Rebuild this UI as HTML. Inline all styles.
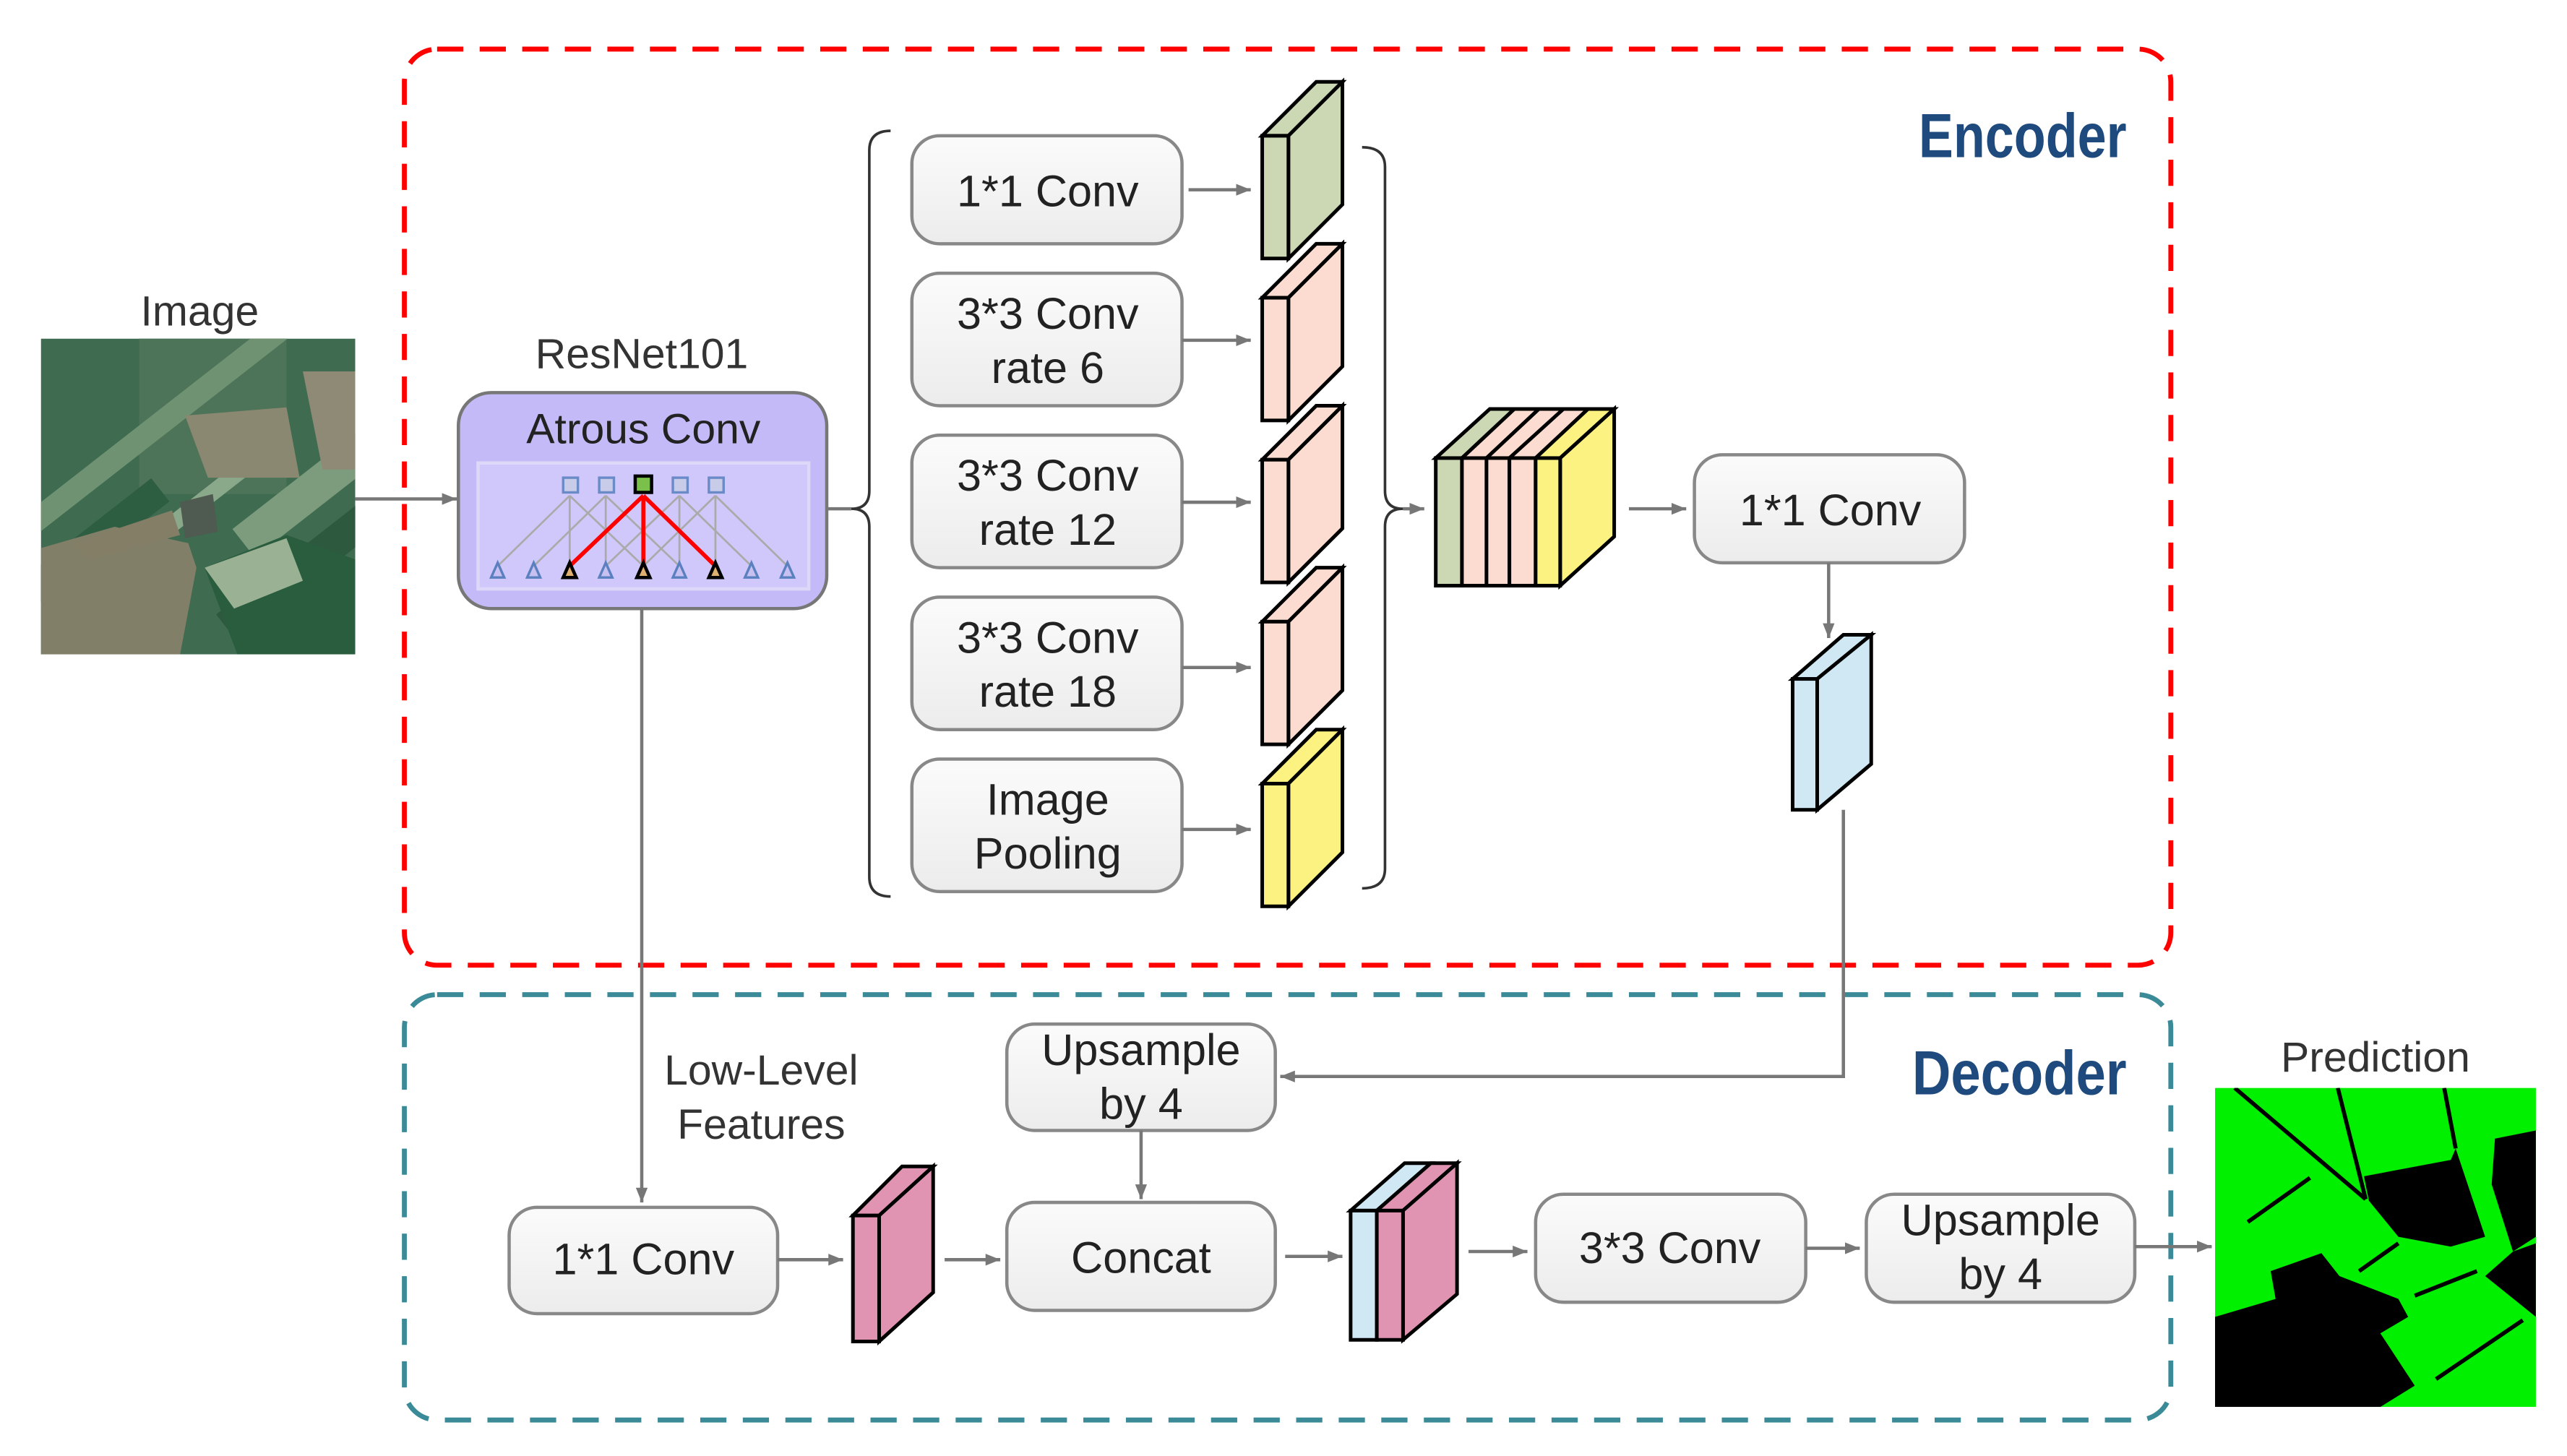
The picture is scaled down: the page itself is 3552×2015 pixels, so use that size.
<!DOCTYPE html>
<html><head><meta charset="utf-8"><style>
html,body{margin:0;padding:0;background:#fff;}
svg{display:block;}
text{font-family:"Liberation Sans",sans-serif;fill:#222;}
</style></head><body>
<svg width="3552" height="2015" viewBox="0 0 1568 890" preserveAspectRatio="none" xmlns="http://www.w3.org/2000/svg">
<defs>
<linearGradient id="bg" x1="0" y1="0" x2="0" y2="1"><stop offset="0" stop-color="#fbfbfb"/><stop offset="1" stop-color="#ececec"/></linearGradient>
<marker id="ar" viewBox="0 0 10 10" refX="10" refY="5" markerWidth="4.5" markerHeight="4.5" orient="auto"><path d="M0,1 L10,5 L0,9 z" fill="#777"/></marker>
<marker id="ar2" viewBox="0 0 10 10" refX="10" refY="5" markerWidth="4" markerHeight="4" orient="auto"><path d="M0,1 L10,5 L0,9 z" fill="#aaa"/></marker>
<marker id="ar3" viewBox="0 0 10 10" refX="10" refY="5" markerWidth="3" markerHeight="3" orient="auto"><path d="M0,1 L10,5 L0,9 z" fill="#f00"/></marker>
</defs>

<!-- Encoder / Decoder frames -->
<rect x="247" y="30" width="1079" height="560" rx="20" fill="none" stroke="#f00" stroke-width="3" stroke-dasharray="16,10"/>
<rect x="247" y="608" width="1079" height="260" rx="20" fill="none" stroke="#3a8a98" stroke-width="3" stroke-dasharray="16,10"/>
<text x="1172" y="96" font-weight="bold" font-size="38" textLength="127" lengthAdjust="spacingAndGlyphs" style="fill:#1f4a7e">Encoder</text>
<text x="1168" y="669" font-weight="bold" font-size="38" textLength="131" lengthAdjust="spacingAndGlyphs" style="fill:#1f4a7e">Decoder</text>

<!-- Input image -->
<text x="122" y="199" font-size="26" text-anchor="middle" style="fill:#333">Image</text>
<svg x="25" y="207" width="192" height="193" viewBox="0 0 192 193" preserveAspectRatio="none">
<rect width="192" height="193" fill="#3f6b50"/>
<rect x="60" y="0" width="90" height="95" fill="#4d7358"/>
<g transform="rotate(-38 96 96)">
<rect x="-20" y="40" width="240" height="14" fill="#6f9273"/>
<rect x="-20" y="70" width="100" height="18" fill="#2e5e42"/>
<rect x="10" y="95" width="120" height="10" fill="#8aa88a"/>
<rect x="100" y="125" width="140" height="22" fill="#7d9c7e"/>
<rect x="60" y="160" width="140" height="20" fill="#2d5a3f"/>
</g>
<polygon points="88,47 150,42 158,85 102,85" fill="#8a8870"/>
<polygon points="160,20 192,20 192,80 172,80" fill="#8e8a75"/>
<polygon points="0,128 45,115 90,125 95,140 85,193 0,193" fill="#827f68"/>
<polygon points="20,125 80,105 85,120 30,135" fill="#857e66"/>
<polygon points="100,140 150,120 192,135 192,193 120,193" fill="#2a5c3e"/>
<polygon points="100,140 150,122 160,148 118,165" fill="#9ab293"/>
<polygon points="85,100 105,95 108,118 88,122" fill="#4f5a50"/>
</svg>
<line x1="217" y1="305" x2="279" y2="305" stroke="#777" stroke-width="2" marker-end="url(#ar)"/>

<!-- ResNet / Atrous -->
<text x="392" y="225" font-size="26" text-anchor="middle" style="fill:#333">ResNet101</text>
<rect x="280" y="240" width="225" height="132" rx="20" fill="#c4baf7" stroke="#777" stroke-width="2"/>
<text x="393" y="271" font-size="26" text-anchor="middle">Atrous Conv</text>
<rect x="292" y="283" width="202" height="77" fill="#d0c8fa" stroke="#ddd8f8" stroke-width="2"/>
<g stroke="#aaa" stroke-width="1.2">
<line x1="304" y1="346" x2="348" y2="303"/><line x1="326" y1="346" x2="370" y2="303"/>
<line x1="348" y1="346" x2="348" y2="303"/><line x1="370" y1="346" x2="370" y2="303"/>
<line x1="370" y1="346" x2="415" y2="303"/><line x1="348" y1="346" x2="393" y2="303"/>
<line x1="415" y1="346" x2="415" y2="303"/><line x1="437" y1="346" x2="437" y2="303"/>
<line x1="415" y1="346" x2="370" y2="303"/><line x1="437" y1="346" x2="393" y2="303"/>
<line x1="459" y1="346" x2="415" y2="303"/><line x1="481" y1="346" x2="437" y2="303"/>
<line x1="393" y1="346" x2="348" y2="303"/><line x1="393" y1="346" x2="437" y2="303"/>
</g>
<g stroke="#f00" stroke-width="2.5">
<line x1="348" y1="346" x2="393" y2="303"/><line x1="393" y1="346" x2="393" y2="303"/><line x1="437" y1="346" x2="393" y2="303"/>
</g>
<g fill="#c8cce8" stroke="#6a8ac8" stroke-width="1.5">
<rect x="344" y="292" width="9" height="9"/><rect x="366" y="292" width="9" height="9"/>
<rect x="411" y="292" width="9" height="9"/><rect x="433" y="292" width="9" height="9"/>
</g>
<rect x="388" y="291" width="10" height="10" fill="#7ac04a" stroke="#000" stroke-width="2"/>
<g fill="#c8c0f0" stroke="#5a80c0" stroke-width="1.5">
<polygon points="304,344 300,353 308,353"/><polygon points="326,344 322,353 330,353"/>
<polygon points="370,344 366,353 374,353"/><polygon points="415,344 411,353 419,353"/>
<polygon points="459,344 455,353 463,353"/><polygon points="481,344 477,353 485,353"/>
</g>
<g fill="#e0b070" stroke="#000" stroke-width="2">
<polygon points="348,344 344,353 352,353"/><polygon points="393,344 389,353 397,353"/><polygon points="437,344 433,353 441,353"/>
</g>

<!-- Braces -->
<path d="M544,80 Q531,80 531,92 L531,300 Q531,311 520,311 Q531,311 531,322 L531,536 Q531,548 544,548" fill="none" stroke="#333" stroke-width="1.6"/>
<line x1="505" y1="311" x2="520" y2="311" stroke="#777" stroke-width="2"/>
<path d="M832,90 Q846,90 846,102 L846,300 Q846,311 857,311 Q846,311 846,322 L846,531 Q846,543 832,543" fill="none" stroke="#333" stroke-width="1.6"/>
<line x1="857" y1="311" x2="870" y2="311" stroke="#777" stroke-width="2" marker-end="url(#ar)"/>

<!-- ASPP boxes -->
<g stroke="#888" stroke-width="2" fill="url(#bg)">
<rect x="557" y="83" width="165" height="66" rx="17"/>
<rect x="557" y="167" width="165" height="81" rx="17"/>
<rect x="557" y="266" width="165" height="81" rx="17"/>
<rect x="557" y="365" width="165" height="81" rx="17"/>
<rect x="557" y="464" width="165" height="81" rx="17"/>
</g>
<g font-size="27" text-anchor="middle">
<text x="640" y="126">1*1 Conv</text>
<text x="640" y="201">3*3 Conv</text><text x="640" y="234">rate 6</text>
<text x="640" y="300">3*3 Conv</text><text x="640" y="333">rate 12</text>
<text x="640" y="399">3*3 Conv</text><text x="640" y="432">rate 18</text>
<text x="640" y="498">Image</text><text x="640" y="531">Pooling</text>
</g>
<g stroke="#777" stroke-width="2" marker-end="url(#ar)">
<line x1="726" y1="116" x2="764" y2="116"/>
<line x1="722" y1="208" x2="764" y2="208"/>
<line x1="722" y1="307" x2="764" y2="307"/>
<line x1="722" y1="408" x2="764" y2="408"/>
<line x1="722" y1="507" x2="764" y2="507"/>
</g>

<!-- Cubes -->
<g stroke="#000" stroke-width="2.2" stroke-linejoin="miter">
<g fill="#cbd8b3"><polygon points="771,83 804,50 820,50 787,83"/><polygon points="787,83 820,50 820,125 787,158"/><rect x="771" y="83" width="16" height="75"/></g>
<g fill="#fcdcd0"><polygon points="771,182 804,149 820,149 787,182"/><polygon points="787,182 820,149 820,224 787,257"/><rect x="771" y="182" width="16" height="75"/></g>
<g fill="#fcdcd0"><polygon points="771,281 804,248 820,248 787,281"/><polygon points="787,281 820,248 820,323 787,356"/><rect x="771" y="281" width="16" height="75"/></g>
<g fill="#fcdcd0"><polygon points="771,380 804,347 820,347 787,380"/><polygon points="787,380 820,347 820,422 787,455"/><rect x="771" y="380" width="16" height="75"/></g>
<g fill="#fbf281"><polygon points="771,479 804,446 820,446 787,479"/><polygon points="787,479 820,446 820,521 787,554"/><rect x="771" y="479" width="16" height="75"/></g>

<!-- concat cube -->
<polygon points="877,280 910,250 925,250 893,280" fill="#cbd8b3"/>
<polygon points="893,280 925,250 940,250 908,280" fill="#fcdcd0"/>
<polygon points="908,280 940,250 955,250 922,280" fill="#fcdcd0"/>
<polygon points="922,280 955,250 970,250 938,280" fill="#fcdcd0"/>
<polygon points="938,280 970,250 986,250 953,280" fill="#fbf281"/>
<polygon points="953,280 986,250 986,328 953,358" fill="#fbf281"/>
<rect x="877" y="280" width="16" height="78" fill="#cbd8b3"/>
<rect x="893" y="280" width="15" height="78" fill="#fcdcd0"/>
<rect x="908" y="280" width="14" height="78" fill="#fcdcd0"/>
<rect x="922" y="280" width="16" height="78" fill="#fcdcd0"/>
<rect x="938" y="280" width="15" height="78" fill="#fbf281"/>

<!-- blue cube -->
<g fill="#cfe8f4"><polygon points="1095,415 1126,388 1143,388 1110,415"/><polygon points="1110,415 1143,388 1143,467 1110,495"/><rect x="1095" y="415" width="15" height="80"/></g>
<!-- magenta cube -->
<g fill="#e094b2"><polygon points="521,743 551,713 570,713 537,743"/><polygon points="537,743 570,713 570,790 537,820"/><rect x="521" y="743" width="16" height="77"/></g>
<!-- blue+pink cube -->
<polygon points="825,740 858,711 874,711 841,740" fill="#cfe8f4"/>
<polygon points="841,740 874,711 890,711 857,740" fill="#e094b2"/>
<polygon points="857,740 890,711 890,791 857,819" fill="#e094b2"/>
<rect x="825" y="740" width="16" height="79" fill="#cfe8f4"/>
<rect x="841" y="740" width="16" height="79" fill="#e094b2"/>
</g>

<line x1="995" y1="311" x2="1030" y2="311" stroke="#777" stroke-width="2" marker-end="url(#ar)"/>
<rect x="1035" y="278" width="165" height="66" rx="17" fill="url(#bg)" stroke="#888" stroke-width="2"/>
<text x="1118" y="321" font-size="27" text-anchor="middle">1*1 Conv</text>
<line x1="1117" y1="344" x2="1117" y2="390" stroke="#777" stroke-width="2" marker-end="url(#ar)"/>
<polyline points="1126,495 1126,658 782,658" fill="none" stroke="#777" stroke-width="2" marker-end="url(#ar)"/>

<!-- Decoder -->
<line x1="392" y1="372" x2="392" y2="735" stroke="#777" stroke-width="2" marker-end="url(#ar)"/>
<text x="465" y="663" font-size="26" text-anchor="middle" style="fill:#333">Low-Level</text>
<text x="465" y="696" font-size="26" text-anchor="middle" style="fill:#333">Features</text>
<g stroke="#888" stroke-width="2" fill="url(#bg)">
<rect x="615" y="626" width="164" height="65" rx="17"/>
<rect x="311" y="738" width="164" height="65" rx="17"/>
<rect x="615" y="735" width="164" height="66" rx="17"/>
<rect x="938" y="730" width="165" height="66" rx="17"/>
<rect x="1140" y="730" width="164" height="66" rx="17"/>
</g>
<g font-size="27" text-anchor="middle">
<text x="697" y="651">Upsample</text><text x="697" y="684">by 4</text>
<text x="393" y="779">1*1 Conv</text>
<text x="697" y="778">Concat</text>
<text x="1020" y="772">3*3 Conv</text>
<text x="1222" y="755">Upsample</text><text x="1222" y="788">by 4</text>
</g>
<g stroke="#777" stroke-width="2" marker-end="url(#ar)">
<line x1="697" y1="691" x2="697" y2="733"/>
<line x1="475" y1="770" x2="515" y2="770"/>
<line x1="577" y1="770" x2="611" y2="770"/>
<line x1="785" y1="768" x2="820" y2="768"/>
<line x1="897" y1="765" x2="933" y2="765"/>
<line x1="1103" y1="763" x2="1136" y2="763"/>
<line x1="1304" y1="762" x2="1351" y2="762"/>
</g>

<!-- Prediction -->
<text x="1451" y="655" font-size="26" text-anchor="middle" style="fill:#333">Prediction</text>
<svg x="1353" y="665" width="196" height="195" viewBox="0 0 196 195" preserveAspectRatio="none">
<rect width="196" height="195" fill="#00f000"/>
<polygon points="91,54 144,44 147,37 165,91 144,97 112,91 94,69" fill="#000"/>
<polygon points="171,31 196,26 196,91 182,100 169,59" fill="#000"/>
<polygon points="165,115 196,140 196,95 182,100" fill="#000"/>
<polygon points="0,140 37,129 34,112 65,101 76,115 112,129 118,140 101,150 122,182 101,195 0,195" fill="#000"/>
<g stroke="#000" stroke-width="2.5" fill="none">
<line x1="12" y1="0" x2="92" y2="68"/><line x1="75" y1="0" x2="92" y2="68"/>
<line x1="140" y1="0" x2="147" y2="37"/><line x1="58" y1="55" x2="20" y2="82"/>
<line x1="112" y1="95" x2="88" y2="112"/><line x1="122" y1="127" x2="160" y2="112"/>
<line x1="188" y1="142" x2="135" y2="178"/>
</g>
</svg>
</svg>
</body></html>
